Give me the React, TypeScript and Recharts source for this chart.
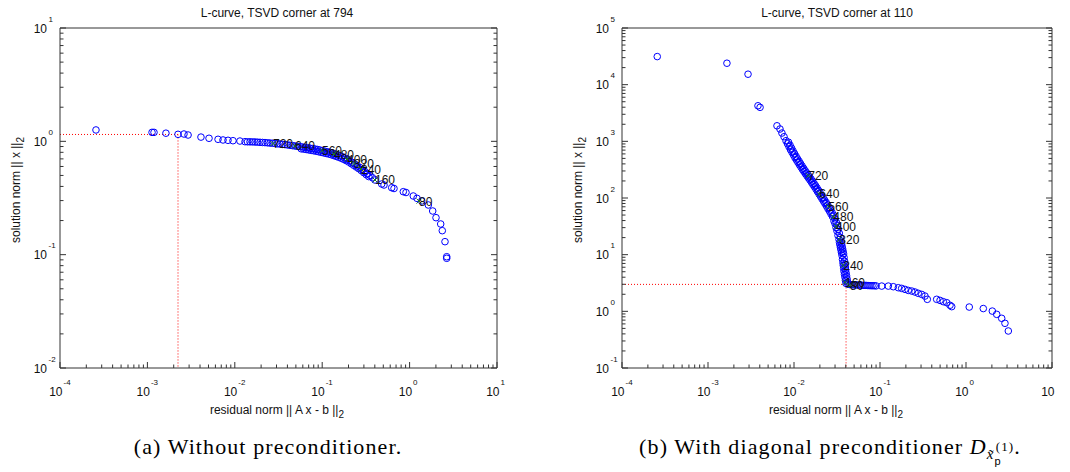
import React from "react";
import { ReferenceLine, Scatter, ScatterChart, XAxis, YAxis } from "recharts";

const SANS = '"Liberation Sans", Arial, Helvetica, sans-serif';
const SERIF = '"Liberation Serif", "Times New Roman", serif';
const FRAME = "#333333";

// (a) without preconditioner -- residual norm vs solution norm per TSVD level
const resA = [
  2.58e-4, 1.13e-3, 1.19e-3, 1.63e-3, 2.24e-3, 2.62e-3, 2.92e-3, 4.1e-3, 5.07e-3, 6.43e-3, 7.33e-3, 8.36e-3, 9.53e-3, 0.01145,
  0.01309, 0.01397, 0.01493, 0.01594, 0.01702, 0.01818, 0.01942, 0.02074, 0.02215, 0.02366, 0.02527, 0.027, 0.02884, 0.0308,
  0.0329, 0.03514, 0.03753, 0.04009, 0.04282, 0.04573, 0.04885, 0.05217, 0.05572, 0.05952, 0.06357, 0.0679, 0.07252, 0.07745,
  0.08272, 0.08836, 0.09437, 0.1008, 0.1076, 0.115, 0.1228, 0.1312, 0.1401, 0.1496, 0.1598, 0.1707, 0.1823, 0.1947,
  0.208, 0.2222, 0.2373, 0.2534, 0.2707, 0.2891, 0.3088, 0.3298, 0.3523, 0.3762, 0.4018,
  0.4796, 0.5095, 0.624, 0.6632, 0.8471, 0.9095, 1.102, 1.215, 1.375, 1.637, 1.838, 2.005, 2.269, 2.366, 2.541, 2.658, 2.658,
];
const solA = [
  1.26, 1.2, 1.2, 1.18, 1.153, 1.16, 1.137, 1.09, 1.064, 1.042, 1.028, 1.021, 1.013, 1.006,
  0.9926, 0.9905, 0.9895, 0.9885, 0.9865, 0.9835, 0.9805, 0.9776, 0.9746, 0.9706, 0.9657, 0.9618, 0.9569, 0.9511,
  0.9463, 0.9406, 0.9358, 0.9292, 0.9225, 0.9161, 0.9095, 0.904, 0.8976, 0.8921, 0.8858, 0.8786, 0.8706, 0.8636,
  0.8557, 0.8471, 0.8376, 0.8283, 0.8182, 0.8092, 0.8002, 0.7865, 0.7739, 0.7599, 0.7462, 0.7309, 0.7127, 0.6949,
  0.6728, 0.6505, 0.6291, 0.6077, 0.5877, 0.563, 0.54, 0.519, 0.4994, 0.4771, 0.4559,
  0.4202, 0.4118, 0.3898, 0.3836, 0.3594, 0.3536, 0.3294, 0.3141, 0.2976, 0.2744, 0.2428, 0.212, 0.1865, 0.1628, 0.1302, 0.0959, 0.0929,
];
// lower edge of the thick band around the knee of (a)
const resAEdge = [
  0.05759, 0.06151, 0.0657, 0.07017, 0.07494, 0.08004, 0.08549, 0.09132, 0.09753, 0.1041, 0.1112, 0.1188, 0.1269, 0.1356,
  0.1448, 0.1546, 0.1652, 0.1764, 0.1884, 0.2012, 0.215, 0.2296, 0.2452, 0.2619, 0.2797, 0.2988, 0.3191, 0.3409,
];
const solAEdge = [
  0.859, 0.8534, 0.8469, 0.8396, 0.8324, 0.8252, 0.8173, 0.8086, 0.7996, 0.7903, 0.7812, 0.7725, 0.7616, 0.749,
  0.7362, 0.7229, 0.709, 0.6928, 0.6756, 0.6564, 0.6351, 0.6141, 0.5936, 0.5737, 0.5522, 0.5293, 0.5082, 0.4887,
];

// every 80th level carries a tag
const tagK = [720, 640, 560, 480, 400, 320, 240, 160, 80];
const tagResA = [0.02735, 0.04887, 0.09954, 0.1365, 0.1923, 0.2312, 0.278, 0.4018, 1.282];
const tagSolA = [0.957, 0.91, 0.83, 0.773, 0.698, 0.637, 0.57, 0.456, 0.297];
const cornerA = [2.24e-3, 1.15];

// (b) with diagonal preconditioner
const resB = [
  2.57e-4, 1.66e-3, 2.92e-3, 3.81e-3, 4.03e-3, 6.34e-3, 6.87e-3, 7.24e-3, 7.66e-3,
  8.07e-3, 8.4e-3, 8.75e-3, 9.11e-3, 9.48e-3, 9.87e-3, 0.01027, 0.01069, 0.01113, 0.01159, 0.01206, 0.01256, 0.01307, 0.01361,
  0.01417, 0.01475, 0.01535, 0.01598, 0.01663, 0.01731, 0.01802, 0.01876, 0.01953, 0.02033, 0.02116, 0.02203, 0.02293, 0.02387,
  0.02484, 0.02586, 0.02692, 0.02803,
  0.02918, 0.02997, 0.03079, 0.03162, 0.03248, 0.03337, 0.03382, 0.03427, 0.03473, 0.0352, 0.03567, 0.03616, 0.03664, 0.03714,
  0.03744, 0.03784, 0.03815, 0.03866, 0.03917, 0.0397, 0.04025,
  0.04246, 0.04479, 0.04725, 0.04989, 0.05259, 0.05549, 0.05848, 0.06176, 0.06516, 0.06871, 0.07252, 0.07651, 0.08072, 0.08514, 0.08985,
  0.1047, 0.125, 0.1429, 0.1633, 0.1786, 0.1954, 0.2133, 0.2339, 0.2553, 0.2786, 0.3055, 0.3334, 0.3548, 0.456, 0.4989, 0.5445,
  0.597, 0.6516, 0.6823, 1.091, 1.589, 2.023, 2.275, 2.6, 2.838, 3.105,
];
const solB = [
  31300, 23900, 15300, 4240, 3980, 1880, 1650, 1400, 1205,
  1025, 907, 803, 711, 640, 574, 514, 467, 424, 384, 350, 319, 292, 267,
  245, 225, 207, 189, 172, 157.5, 143, 130, 118, 107, 96.8, 87.8, 79.7, 72,
  64.8, 58.6, 52.5, 47,
  39.2, 35.4, 30.1, 26.1, 21.8, 18.5, 16.4, 14.8, 13.4, 12.1, 10.9, 9.68, 8.23, 7.14,
  6.45, 5.71, 5.06, 4.48, 3.97, 3.51, 3.11,
  2.99, 2.96, 2.94, 2.93, 2.92, 2.91, 2.9, 2.88, 2.87, 2.87, 2.85, 2.84, 2.83, 2.83, 2.81,
  2.79, 2.79, 2.72, 2.61, 2.54, 2.44, 2.34, 2.28, 2.19, 2.08, 1.99, 1.86, 1.63, 1.63, 1.56, 1.48,
  1.42, 1.28, 1.21, 1.19, 1.12, 1.01, 0.885, 0.753, 0.615, 0.45,
];
// right edge of the solid steep band of (b)
const resBEdge = [
  8.64e-3, 9.0e-3, 9.38e-3, 9.75e-3, 0.01015, 0.01057, 0.011, 0.01146, 0.01193, 0.01241, 0.01293, 0.01345, 0.01401, 0.01458,
  0.01518, 0.0158, 0.01644, 0.01712, 0.01782, 0.01854, 0.01931, 0.0201, 0.02093, 0.02178, 0.02267, 0.0236, 0.02457, 0.02557,
  0.02661, 0.0277, 0.02884, 0.03003,
  0.03105, 0.0319, 0.03276, 0.03365, 0.03457, 0.03527, 0.03574, 0.03623, 0.03671, 0.0372, 0.03771, 0.03822, 0.03873, 0.03915,
  0.03952, 0.03989, 0.04032, 0.04086, 0.0414, 0.04197,
];
const solBEdge = [
  964, 853, 756, 675, 606, 543, 490, 445, 403, 367, 334, 305, 279, 256,
  235, 216, 198, 180, 164.6, 150, 136, 124, 112, 101.8, 92.2, 83.7, 75.8, 68.3,
  61.6, 55.5, 49.7, 42.9,
  37.3, 32.6, 28.0, 23.9, 20.1, 17.4, 15.6, 14.1, 12.7, 11.5, 10.3, 8.93, 7.67, 6.79,
  6.07, 5.38, 4.76, 4.22, 3.73, 3.3,
];
const tagResB = [0.01465, 0.01968, 0.02506, 0.02864, 0.03076, 0.03365, 0.03741, 0.03917, 0.04477];
const tagSolB = [248, 118, 71.4, 46.5, 31.8, 18.5, 6.46, 3.24, 2.87];
const cornerB = [0.0403, 2.99];

const xDecades = [1e-4, 1e-3, 1e-2, 1e-1, 1, 10];
const yDecadesA = [1e-2, 1e-1, 1, 10];
const yDecadesB = [1e-1, 1, 10, 100, 1e3, 1e4, 1e5];
const minorSteps = [1, 2, 3, 4, 5, 6, 7, 8, 9];

function withMinors(decades: number[]) {
  const out: number[] = [];
  decades.forEach((d, i) => {
    if (i === decades.length - 1) out.push(d);
    else minorSteps.forEach((m) => out.push(m * d));
  });
  return out;
}

const zip = (xs: number[], ys: number[]) => xs.map((x, i) => ({ x, y: ys[i] }));
const tags = (xs: number[], ys: number[]) => xs.map((x, i) => ({ x, y: ys[i], k: tagK[i] }));

function LogTick(props: any) {
  const { x, y, payload, side } = props;
  const v = Number(payload.value);
  const p = Math.round(Math.log10(v));
  const major = Math.abs(Math.log10(v) - p) < 1e-6;
  const len = major ? 6 : 3.5;
  let d = "";
  if (side === "bottom") d = `M${x},${y}v${-len}`;
  if (side === "top") d = `M${x},${y}v${len}`;
  if (side === "left") d = `M${x},${y}h${len}`;
  if (side === "right") d = `M${x},${y}h${-len}`;
  return (
    <g>
      <path d={d} stroke={FRAME} strokeWidth={1} fill="none" />
      {major && side === "bottom" && (
        <g fill="#111" fontFamily={SANS}>
          <text x={x + 2.5} y={y + 28} fontSize={12} textAnchor="end">10</text>
          <text x={x + 3.5} y={y + 17} fontSize={8}>{p}</text>
        </g>
      )}
      {major && side === "left" && (
        <g fill="#111" fontFamily={SANS}>
          <text x={x - 13} y={y + 4.5} fontSize={12} textAnchor="end">10</text>
          <text x={x - 11.5} y={y - 6.5} fontSize={8}>{p}</text>
        </g>
      )}
    </g>
  );
}

const Ring = (p: any) => (
  <circle cx={p.cx} cy={p.cy} r={3.3} fill="none" stroke="#0000ff" strokeWidth={1} />
);

const Tag = (p: any) => (
  <g>
    <path
      d={`M${p.cx - 2.5},${p.cy - 2.5}L${p.cx + 2.5},${p.cy + 2.5}M${p.cx - 2.5},${p.cy + 2.5}L${p.cx + 2.5},${p.cy - 2.5}`}
      stroke="#1b7a1b"
      strokeWidth={1}
    />
    <text x={p.cx} y={p.cy + 4.5} fontSize={12} fill="#111" fontFamily={SANS}>
      {p.payload.k}
    </text>
  </g>
);

function Panel(props: any) {
  const { width, leftW, rightW, yDecades, points, marks, corner } = props;
  const xTicks = withMinors(xDecades);
  const yTicks = withMinors(yDecades);
  const yDomain = [yDecades[0], yDecades[yDecades.length - 1]];
  const common = {
    type: "number" as const,
    scale: "log" as const,
    allowDataOverflow: true,
    interval: 0 as const,
    tickSize: 0,
    tickMargin: 0,
    tickLine: false,
    axisLine: { stroke: FRAME },
  };
  return (
    <ScatterChart width={width} height={420} margin={{ top: 0, right: 0, bottom: 0, left: 0 }}>
      <XAxis xAxisId="b" dataKey="x" domain={[1e-4, 10]} ticks={xTicks} height={52}
        tick={(t: any) => <LogTick {...t} side="bottom" />} {...common} />
      <XAxis xAxisId="t" orientation="top" domain={[1e-4, 10]} ticks={xTicks} height={28}
        tick={(t: any) => <LogTick {...t} side="top" />} {...common} />
      <YAxis yAxisId="l" dataKey="y" domain={yDomain} ticks={yTicks} width={leftW}
        tick={(t: any) => <LogTick {...t} side="left" />} {...common} />
      <YAxis yAxisId="r" orientation="right" domain={yDomain} ticks={yTicks} width={rightW}
        tick={(t: any) => <LogTick {...t} side="right" />} {...common} />
      <ReferenceLine xAxisId="b" yAxisId="l" ifOverflow="visible" stroke="#ff0000" strokeDasharray="1 2"
        segment={[{ x: 1e-4, y: corner[1] }, { x: corner[0], y: corner[1] }]} />
      <ReferenceLine xAxisId="b" yAxisId="l" ifOverflow="visible" stroke="#ff0000" strokeDasharray="1 2"
        segment={[{ x: corner[0], y: corner[1] }, { x: corner[0], y: yDomain[0] }]} />
      <Scatter xAxisId="b" yAxisId="l" data={points} shape={Ring} isAnimationActive={false} />
      <Scatter xAxisId="b" yAxisId="l" data={marks} shape={Tag} isAnimationActive={false} />
    </ScatterChart>
  );
}

function AxisTitles({ cx, ylx }: { cx: number; ylx: number }) {
  return (
    <g fontFamily={SANS} fill="#111" fontSize={12}>
      <text x={cx} y={414} textAnchor="middle">
        residual norm || A x - b ||<tspan dy={4} fontSize={10}>2</tspan>
      </text>
      <text transform={`translate(${ylx},190) rotate(-90)`} textAnchor="middle">
        solution norm || x ||<tspan dy={4} fontSize={10}>2</tspan>
      </text>
    </g>
  );
}

export default function App() {
  return (
    <div style={{ position: "absolute", left: 0, top: 0, width: 1070, height: 472, background: "#fff" }}>
      <div style={{ position: "absolute", left: 0, top: 0 }}>
        <Panel width={530} leftW={60} rightW={33} yDecades={yDecadesA}
          points={[...zip(resA, solA), ...zip(resAEdge, solAEdge)]} marks={tags(tagResA, tagSolA)} corner={cornerA} />
      </div>
      <div style={{ position: "absolute", left: 535, top: 0 }}>
        <Panel width={520} leftW={87} rightW={3} yDecades={yDecadesB}
          points={[...zip(resB, solB), ...zip(resBEdge, solBEdge)]} marks={tags(tagResB, tagSolB)} corner={cornerB} />
      </div>
      <svg width={1070} height={472} style={{ position: "absolute", left: 0, top: 0, pointerEvents: "none" }}>
        <g fontFamily={SANS} fill="#111" fontSize={12} textAnchor="middle">
          <text x={277} y={16.5}>L-curve, TSVD corner at 794</text>
          <text x={837} y={16.5}>L-curve, TSVD corner at 110</text>
        </g>
        <AxisTitles cx={277} ylx={20} />
        <AxisTitles cx={836} ylx={582} />
        <g fontFamily={SERIF} fontSize={22} fill="#000" style={{ letterSpacing: "1.1px" }}>
          <text x={268} y={454} textAnchor="middle">(a) Without preconditioner.</text>
          <text x={830} y={454} textAnchor="middle">
            (b) With diagonal preconditioner <tspan fontStyle="italic">D</tspan>
            <tspan fontSize={15} fontStyle="italic" dy={5}>x̃</tspan>
            <tspan fontSize={11} fontFamily={SANS} dy={6}>p</tspan>
            <tspan fontSize={13} dx={-6} dy={-14}>(1)</tspan>
            <tspan dy={3}>.</tspan>
          </text>
        </g>
      </svg>
    </div>
  );
}
